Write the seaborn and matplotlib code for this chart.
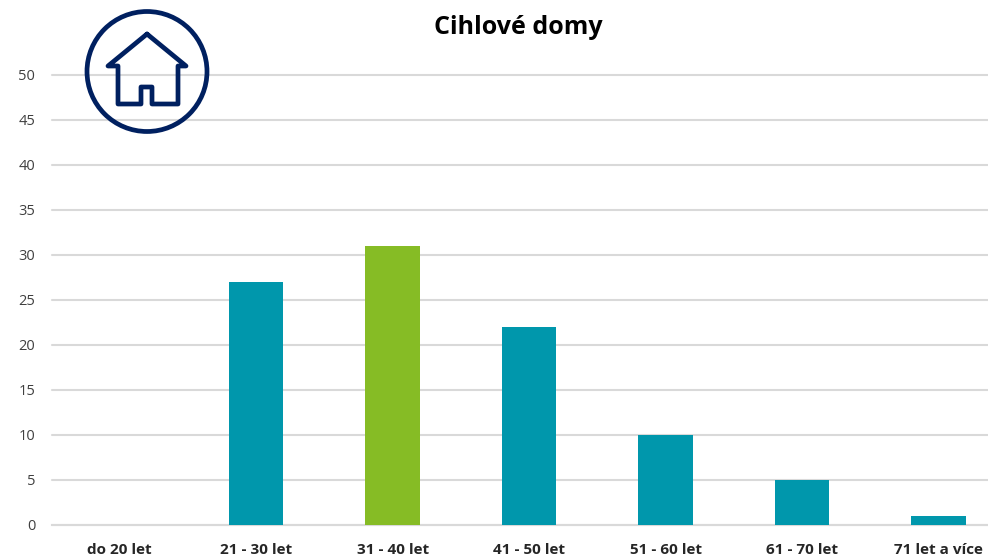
import matplotlib
matplotlib.use('Agg')
import matplotlib.pyplot as plt
import seaborn as sns
import pandas as pd
from matplotlib.patches import Circle

categories = ['do 20 let', '21 - 30 let', '31 - 40 let', '41 - 50 let', '51 - 60 let', '61 - 70 let', '71 let a více']
values = [0, 27, 31, 22, 10, 5, 1]
colors = ['#0097AC', '#0097AC', '#86BC25', '#0097AC', '#0097AC', '#0097AC', '#0097AC']
y_ticks = list(range(0, 55, 5))
title = 'Cihlové domy'

sns.set_theme(style='white')
plt.rcParams['font.family'] = ['Open Sans', 'DejaVu Sans']

df = pd.DataFrame({'cat': categories, 'val': values})

fig = plt.figure(figsize=(9.88, 5.57), dpi=100)
# 0 at y=525, 50 at y=75, left 52, right 988
ax = fig.add_axes([52 / 988, 1 - 524.6 / 557, 936 / 988, 450 / 557])
sns.barplot(data=df, x='cat', y='val', hue='cat', palette=colors, legend=False, width=0.4, ax=ax,
            saturation=1, zorder=3, linewidth=0)
ax.set_ylim(0, 50)
# bars sit 136.5 px apart, first centre at x=119.5
ax.set_xlim(-0.495, 6.362)
ax.set_yticks(y_ticks)
ax.set_xlabel('')
ax.set_ylabel('')
ax.grid(axis='y', color='#D9D9D9', linewidth=1.5, zorder=0)
for line in ax.get_ygridlines():
    line.set_clip_on(False)
sns.despine(ax=ax, left=True, top=True, right=True)
ax.spines['bottom'].set_color('#D9D9D9')
ax.spines['bottom'].set_linewidth(1.5)
ax.tick_params(axis='y', length=0, pad=12, labelsize=10.5, labelcolor='#404040')
ax.tick_params(axis='x', length=0, pad=13, labelcolor='#262626')
for lab in ax.get_xticklabels():
    lab.set_fontsize(11)
    lab.set_fontweight('bold')

fig.text(518 / 988, 1 - 28 / 557, title, ha='center', va='center', fontsize=18, fontweight='bold', color='black')

# house icon in figure pixels
navy = '#002060'
ov = fig.add_axes([0, 0, 1, 1], facecolor='none')
ov.set_xlim(0, 988)
ov.set_ylim(557, 0)
ov.axis('off')
ov.add_patch(Circle((147, 71.5), 60, fill=False, edgecolor=navy, linewidth=3.4))
hx = [147, 186, 178, 178, 152, 152, 141, 141, 118, 118, 108, 147]
hy = [34, 66, 66, 104, 104, 87, 87, 104, 104, 66, 66, 34]
ov.plot(hx, hy, color=navy, linewidth=3.4, solid_joinstyle='round', solid_capstyle='round')

fig.savefig('out.png', dpi=100)
